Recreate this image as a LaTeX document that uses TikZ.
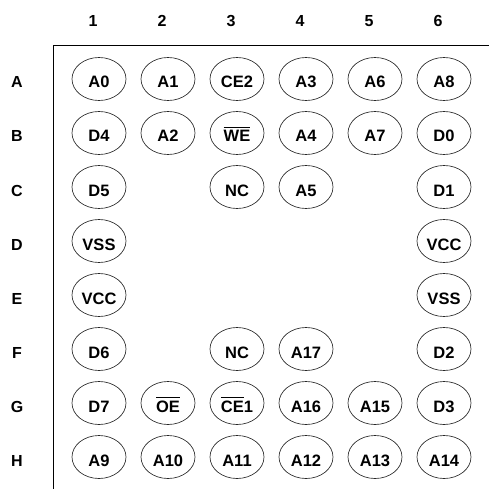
\documentclass[tikz,border=0pt]{standalone}
\usepackage{fontspec}
\setmainfont{Liberation Sans}
\usetikzlibrary{shapes.geometric}
\newcommand{\ovl}[1]{$\overline{\mbox{\rule{0pt}{13pt}#1}}$}
\newcommand{\pinat}[4]{%
  \node[pinshape] (#1) at (#2,#3-3) {};
  \node[pintext] (#1t) at (#2,#3) {#4};}
\begin{document}
\begin{tikzpicture}[x=1pt,y=-1pt,
  pinshape/.style={ellipse, draw=black!85, line width=0.65pt, minimum width=54pt, minimum height=43pt, inner sep=0pt},
  pintext/.style={font=\fontsize{16.5}{18}\selectfont\bfseries, inner sep=0pt, anchor=base, yshift=-6pt},
  hdr/.style={font=\fontsize{16}{18}\selectfont\bfseries, inner sep=0pt, anchor=base, yshift=-6pt}]
\useasboundingbox (0,0) rectangle (489,489);
% frame
\coordinate (fb) at (53,489);
\coordinate (fc) at (53,46);
\coordinate (fr) at (489,46);
\draw[line width=1pt] (fb) -- (fc) -- (fr);
% column headers
\node[hdr] (c1) at (93,21) {1};
\node[hdr] (c2) at (162,21) {2};
\node[hdr] (c3) at (231,21) {3};
\node[hdr] (c4) at (300,21) {4};
\node[hdr] (c5) at (369,21) {5};
\node[hdr] (c6) at (438,21) {6};
% row headers
\node[hdr] (rA) at (17,82) {A};
\node[hdr] (rB) at (17,136) {B};
\node[hdr] (rC) at (17,190) {C};
\node[hdr] (rD) at (17,244) {D};
\node[hdr] (rE) at (17,298) {E};
\node[hdr] (rF) at (17,352) {F};
\node[hdr] (rG) at (17,406) {G};
\node[hdr] (rH) at (17,460) {H};
% row A
\pinat{pA1}{99}{82}{A0}
\pinat{pA2}{168}{82}{A1}
\pinat{pA3}{237}{82}{CE2}
\pinat{pA4}{306}{82}{A3}
\pinat{pA5}{375}{82}{A6}
\pinat{pA6}{444}{82}{A8}
% row B
\pinat{pB1}{99}{136}{D4}
\pinat{pB2}{168}{136}{A2}
\pinat{pB3}{237}{136}{\ovl{WE}}
\pinat{pB4}{306}{136}{A4}
\pinat{pB5}{375}{136}{A7}
\pinat{pB6}{444}{136}{D0}
% row C
\pinat{pC1}{99}{190}{D5}
\pinat{pC3}{237}{190}{NC}
\pinat{pC4}{306}{190}{A5}
\pinat{pC6}{444}{190}{D1}
% row D
\pinat{pD1}{99}{244}{VSS}
\pinat{pD6}{444}{244}{VCC}
% row E
\pinat{pE1}{99}{298}{VCC}
\pinat{pE6}{444}{298}{VSS}
% row F
\pinat{pF1}{99}{352}{D6}
\pinat{pF3}{237}{352}{NC}
\pinat{pF4}{306}{352}{A17}
\pinat{pF6}{444}{352}{D2}
% row G
\pinat{pG1}{99}{406}{D7}
\pinat{pG2}{168}{406}{\ovl{OE}}
\pinat{pG3}{237}{406}{\ovl{CE}1}
\pinat{pG4}{306}{406}{A16}
\pinat{pG5}{375}{406}{A15}
\pinat{pG6}{444}{406}{D3}
% row H
\pinat{pH1}{99}{460}{A9}
\pinat{pH2}{168}{460}{A10}
\pinat{pH3}{237}{460}{A11}
\pinat{pH4}{306}{460}{A12}
\pinat{pH5}{375}{460}{A13}
\pinat{pH6}{444}{460}{A14}
\end{tikzpicture}
\end{document}
